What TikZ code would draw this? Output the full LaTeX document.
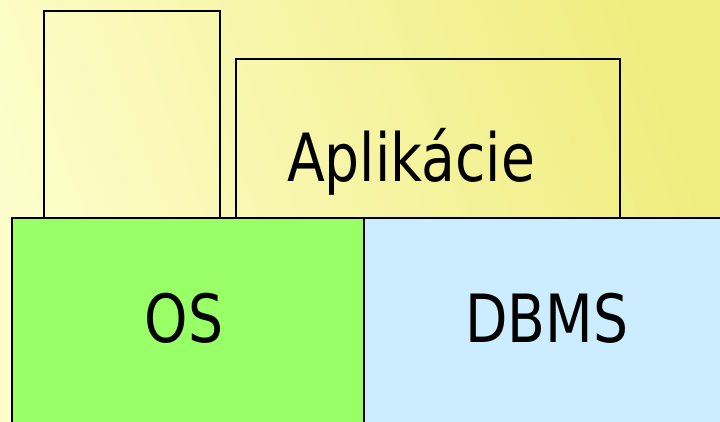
\documentclass[tikz,border=0pt]{standalone}
\usepackage{fontspec}
\usepackage{graphicx}
\setmainfont{DejaVu Sans}
\definecolor{bgL}{HTML}{FDFDCB}
\definecolor{bgR}{HTML}{F0ED80}
\definecolor{osgreen}{HTML}{99FF66}
\definecolor{dbblue}{HTML}{CCECFF}
\tikzset{
  box/.style={draw=black, line width=2pt},
  lbl/.style={anchor=base, inner sep=0pt, font=\fontsize{66.5}{70}\selectfont}
}
\newcommand{\narrowtxt}[1]{\scalebox{0.83}[1]{#1}}
\begin{document}
\begin{tikzpicture}[x=1pt,y=-1pt]
\useasboundingbox (0,0) rectangle (720,422);
\clip (0,0) rectangle (720,422);
\shade[left color=bgL, right color=bgR, shading angle=110] (0,0) rectangle (720,422);
% upper boxes
\draw[box] (44,11) rectangle (220,218);
\draw[box] (236,59) rectangle (620,218);
% lower boxes
\draw[box, fill=osgreen] (12,218) rectangle (364,440);
\draw[box, fill=dbblue] (364,218) rectangle (740,440);
% labels
\node[lbl] (app) at (411,182) {\narrowtxt{Aplikácie}};
\node[lbl] (os) at (184,342) {\narrowtxt{OS}};
\node[lbl] (dbms) at (547,342) {\narrowtxt{DBMS}};
\end{tikzpicture}
\end{document}
